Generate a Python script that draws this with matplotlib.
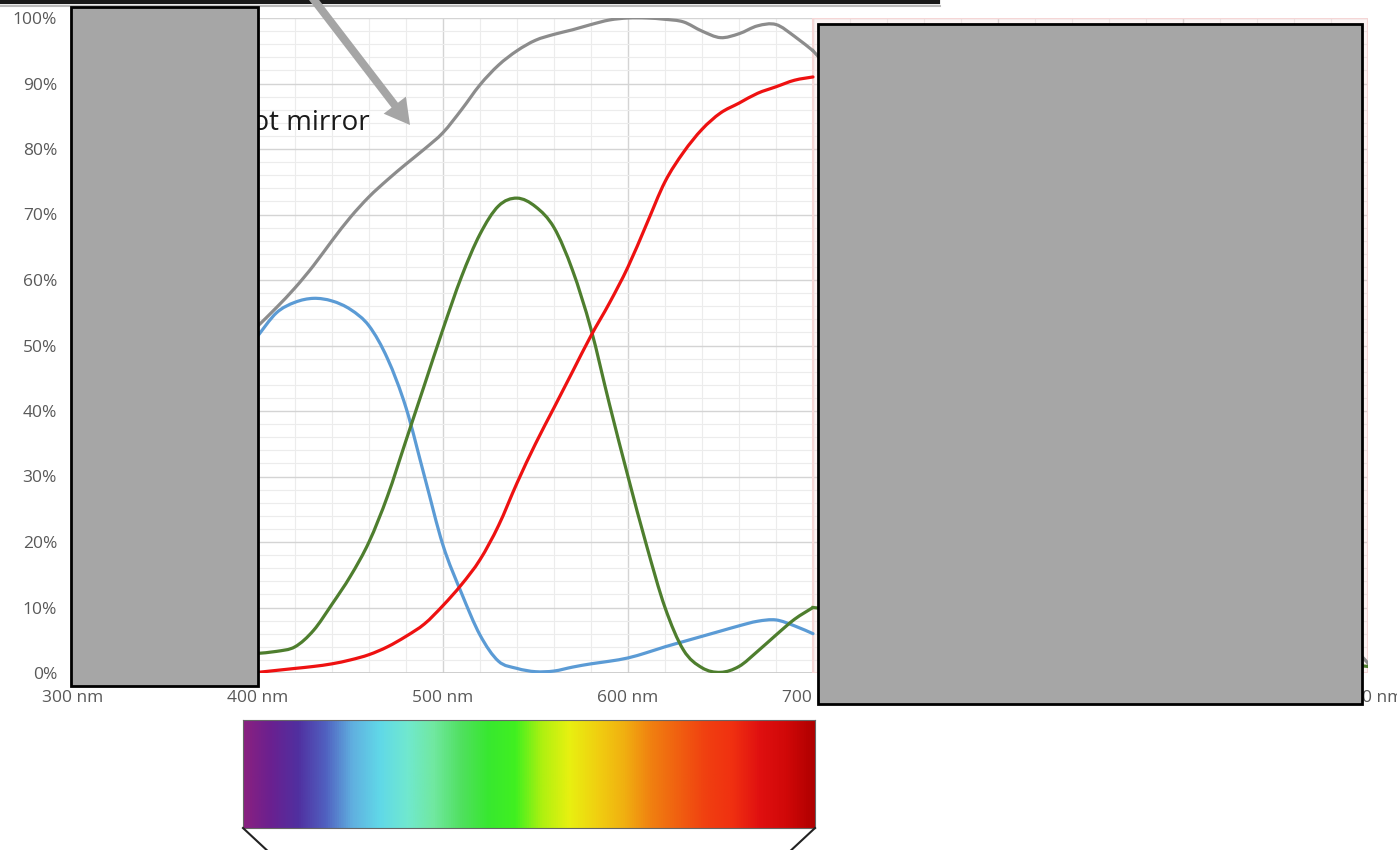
import numpy as np
import matplotlib
matplotlib.use("Agg")
import matplotlib.pyplot as plt
from matplotlib.patches import Rectangle, FancyArrow, PathPatch
from matplotlib.path import Path
from matplotlib.lines import Line2D
from matplotlib.colors import LinearSegmentedColormap
from matplotlib.transforms import IdentityTransform
from matplotlib.ticker import MultipleLocator, FuncFormatter

plt.rcParams['font.family'] = ['Open Sans', 'DejaVu Sans']

wl = [400, 410, 420, 430, 440, 450, 460, 470, 480, 490, 500, 510, 520, 530, 540, 550,
      560, 570, 580, 590, 600, 610, 620, 630, 640, 650, 660, 670, 680, 690, 700]
gray_total = [53, 55.8, 58.8, 62.2, 66, 69.6, 72.7, 75.3, 77.7, 80, 82.5, 86, 89.8, 92.8, 95, 96.6,
              97.5, 98.2, 99, 99.7, 100, 100, 99.8, 99.4, 98, 97, 97.6, 98.8, 99, 97.2, 95]
blue = [51.5, 55, 56.6, 57.2, 56.8, 55.5, 53, 48, 40.5, 30, 19.5, 12.2, 5.8, 1.8, 0.7, 0.2,
        0.3, 0.9, 1.4, 1.8, 2.3, 3.1, 4.0, 4.8, 5.6, 6.4, 7.2, 7.9, 8.1, 7.2, 6.0]
green = [3.0, 3.3, 4.0, 6.5, 10.5, 14.8, 20, 27, 35.5, 44, 52.5, 60.5, 67, 71.3, 72.5, 71.2,
         68, 61.5, 52.5, 41, 30, 19.5, 10, 3.5, 0.8, 0.1, 1.0, 3.3, 5.8, 8.2, 10]
red = [0.1, 0.4, 0.7, 1.0, 1.4, 2.0, 2.8, 4.0, 5.6, 7.5, 10.3, 13.5, 17.3, 22.5, 29, 35,
       40.5, 46, 51.5, 56.5, 62, 68.5, 75, 79.5, 83, 85.5, 87, 88.5, 89.5, 90.5, 91]
# tails seen at the far right edge (the rest is hidden)
tail_wl = [700, 1000]
gray_tail = [95, 1.5]
green_tail = [10, 1.0]

ir_band = (700, 1000)

spectrum_colors = ['#8a2080', '#6a2090', '#5030a0', '#5060c0', '#60b0e0', '#60d8e8',
                   '#70e8d0', '#70e8a0', '#50e060', '#38e830', '#40f020', '#b0f010',
                   '#e8f010', '#f0d010', '#f0b010', '#f08010', '#f06010', '#f04010',
                   '#f03010', '#e01010', '#d00808', '#b00000']

W, H = 1397, 850
fig = plt.figure(figsize=(W / 100, H / 100), dpi=100)


def fx(x):
    return x / W


def fy(y):
    return 1 - y / H


def smooth_line(ax, xs, ys, color, lw):
    # Excel-style smoothed line: cubic bezier through the points
    p = np.column_stack([xs, ys]).astype(float)
    pad = np.vstack([p[0], p, p[-1]])
    verts = [p[0]]
    codes = [Path.MOVETO]
    for i in range(len(p) - 1):
        c1 = pad[i + 1] + (pad[i + 2] - pad[i]) / 6
        c2 = pad[i + 2] - (pad[i + 3] - pad[i + 1]) / 6
        verts += [c1, c2, p[i + 1]]
        codes += [Path.CURVE4] * 3
    ax.add_patch(PathPatch(Path(verts, codes), fill=False, edgecolor=color, lw=lw,
                           capstyle='round', joinstyle='round', zorder=3))


ax = fig.add_axes([fx(73), fy(673), fx(1368) - fx(73), fy(18) - fy(673)])
ax.set_xlim(300, 1000)
ax.set_ylim(0, 100)
ax.set_axisbelow(True)
ax.xaxis.set_major_locator(MultipleLocator(100))
ax.xaxis.set_minor_locator(MultipleLocator(20))
ax.yaxis.set_major_locator(MultipleLocator(10))
ax.yaxis.set_minor_locator(MultipleLocator(2))
ax.grid(which='major', color='#d4d4d4', lw=1.0)
ax.grid(which='minor', color='#ececec', lw=0.8)
for s in ax.spines.values():
    s.set_visible(False)
ax.axhline(0, color='#c8c8c8', lw=1.2, zorder=1)
ax.tick_params(which='both', length=0, colors='#595959', labelsize=12.5)
ax.tick_params(axis='x', pad=12)
ax.tick_params(axis='y', pad=11.5)
ax.xaxis.set_major_formatter(FuncFormatter(lambda v, p: f"{int(v)} nm"))
ax.yaxis.set_major_formatter(FuncFormatter(lambda v, p: f"{int(v)}%"))

ax.axvspan(*ir_band, facecolor='#f8c8c8', alpha=0.2, edgecolor='none', zorder=1)
ax.add_patch(Rectangle((ir_band[0], 0), ir_band[1] - ir_band[0], 100, fill=False,
                       edgecolor='#f5d6d6', lw=1.5, zorder=1))

lw = 2.3
ax.plot(tail_wl, gray_tail, color='#8c8c8c', lw=lw, zorder=3)
ax.plot(tail_wl, green_tail, color='#4e7e2e', lw=lw, zorder=3)
smooth_line(ax, wl, gray_total, '#8c8c8c', lw)
smooth_line(ax, wl, blue, '#5b9bd5', lw)
smooth_line(ax, wl, green, '#4e7e2e', lw)
smooth_line(ax, wl, red, '#ee1111', lw)

ax.text(460.5, 82.9, "Hot mirror", fontsize=20, color='#1a1a1a', ha='right', va='baseline',
        zorder=4)

# spectrum strip below the axis
sax = fig.add_axes([fx(243), fy(828), fx(815) - fx(243), fy(720) - fy(828)])
cmap = LinearSegmentedColormap.from_list('spec', spectrum_colors)
sax.imshow(np.linspace(0, 1, 512)[None, :], cmap=cmap, aspect='auto')
sax.set_xticks([])
sax.set_yticks([])
for s in sax.spines.values():
    s.set_color('#666666')
    s.set_linewidth(0.8)
fig.add_artist(Line2D([fx(243), fx(272)], [fy(828), fy(855)], color='#222222', lw=1.5))
fig.add_artist(Line2D([fx(815), fx(786)], [fy(828), fy(855)], color='#222222', lw=1.5))

# banner edge at the top
fig.add_artist(Rectangle((fx(-10), fy(2)), fx(948), 0.2, facecolor='white',
                         edgecolor='#1a1a1a', lw=3, zorder=5))
fig.add_artist(Line2D([fx(0), fx(940)], [fy(5.5), fy(5.5)], color='#bbbbbb', lw=1.5, zorder=4))

# callout arrow
fig.add_artist(FancyArrow(311, H + 4, 99, -129, width=8, head_width=28, head_length=25,
                          length_includes_head=True, color='#a5a5a5', lw=0,
                          transform=IdentityTransform(), zorder=6))

# redaction boxes
fig.add_artist(Rectangle((fx(71), fy(686)), fx(258) - fx(71), fy(7) - fy(686),
                         facecolor='#a6a6a6', edgecolor='black', lw=2, zorder=10))
fig.add_artist(Rectangle((fx(818), fy(704)), fx(1362) - fx(818), fy(24) - fy(704),
                         facecolor='#a6a6a6', edgecolor='black', lw=2, zorder=10))

fig.savefig("out.png", dpi=100)
